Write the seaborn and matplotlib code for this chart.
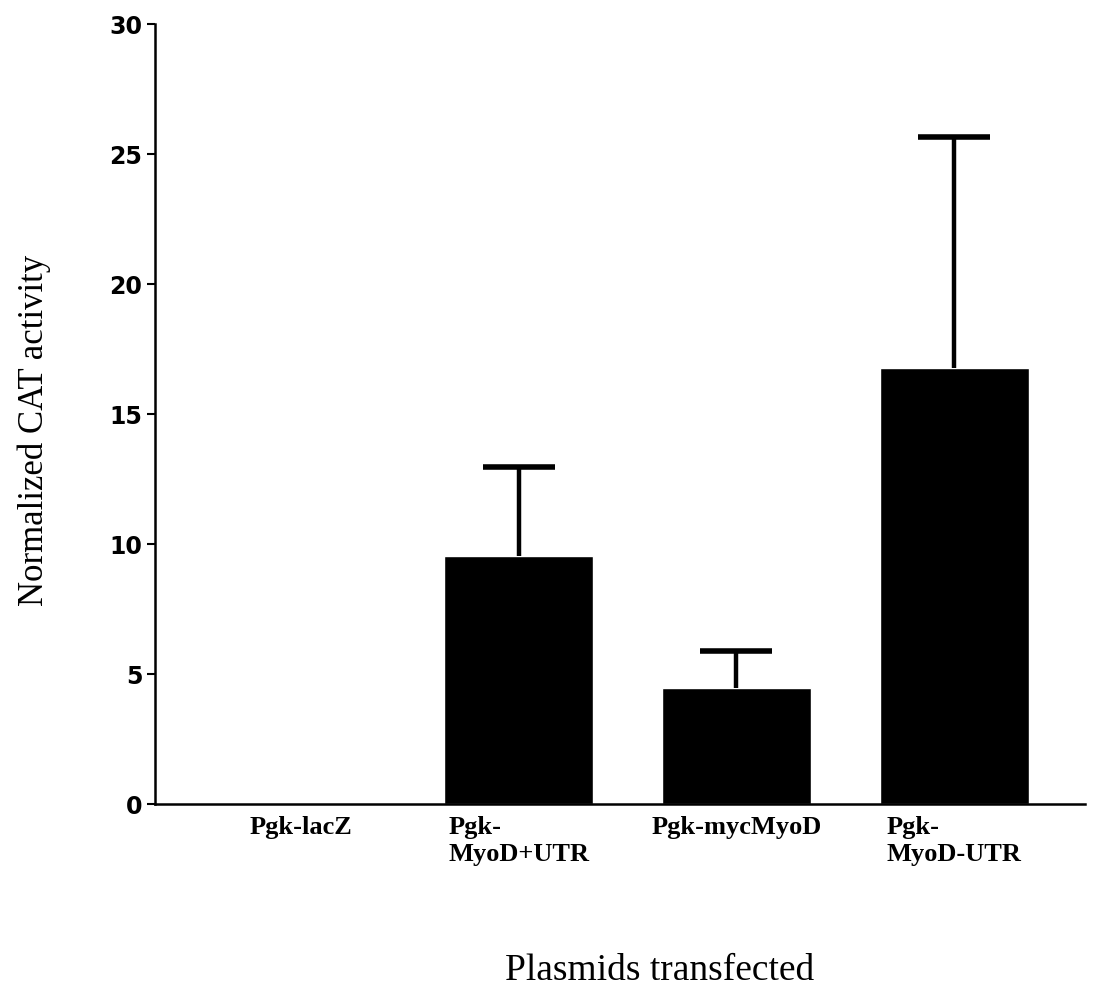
import numpy as np
import seaborn as sns
import matplotlib.pyplot as plt

# =========================
# Data
# =========================
plasmids = ['Pgk-lacZ', 'Pgk-\nMyoD+UTR', 'Pgk-mycMyoD', 'Pgk-\nMyoD-UTR']
cat_activity = [0.0, 9.55, 4.45, 16.75]
cat_error = [0.0, 3.42, 1.43, 8.9]
y_ticks = [0, 5, 10, 15, 20, 25, 30]

# =========================
# Plot
# =========================
sns.set_theme(style="white")
plt.rcParams['font.family'] = ['Liberation Serif', 'DejaVu Serif']
plt.rcParams['text.color'] = 'black'
plt.rcParams['axes.labelcolor'] = 'black'
plt.rcParams['xtick.color'] = 'black'
plt.rcParams['ytick.color'] = 'black'

fig = plt.figure(figsize=(11.06, 9.95), dpi=100)
ax = fig.add_axes([0.140, 0.191, 0.841, 0.784])

sns.barplot(x=plasmids, y=cat_activity, color='black', saturation=1,
            width=0.685, errorbar=None, ax=ax)

# upward-only error bars, skip the empty bar
xs = np.arange(len(plasmids))
vals = np.array(cat_activity)
errs = np.array(cat_error)
mask = errs > 0
eb = ax.errorbar(xs[mask], vals[mask], yerr=[np.zeros(mask.sum()), errs[mask]],
                 fmt='none', ecolor='black', elinewidth=3.2, capsize=26,
                 capthick=4)
# hide the lower caps (they'd sit on the bar tops)
eb[1][0].set_visible(False)
eb[1][1].set_solid_capstyle('round')

ax.set_xlim(-0.67, 3.6)
ax.set_ylim(0, 30)
ax.set_yticks(y_ticks)
ax.set_yticklabels([str(t) for t in y_ticks], family='DejaVu Sans',
                   fontweight='heavy', fontsize=17)

for lbl in ax.get_xticklabels():
    lbl.set_fontweight('bold')
    lbl.set_fontsize(19)
    lbl.set_multialignment('left')

ax.tick_params(axis='x', length=0, pad=8)
ax.tick_params(axis='y', length=6, width=1.5, color='black', pad=3, left=True)

sns.despine(ax=ax)
for side in ['left', 'bottom']:
    ax.spines[side].set_color('black')
    ax.spines[side].set_linewidth(1.8)

ax.set_ylabel('Normalized CAT activity', fontsize=25)
ax.set_xlabel('Plasmids transfected', fontsize=27)
ax.yaxis.set_label_coords(-0.112, 0.48)
ax.xaxis.set_label_coords(0.543, -0.19)

fig.savefig('out.png', dpi=100, facecolor='white')
